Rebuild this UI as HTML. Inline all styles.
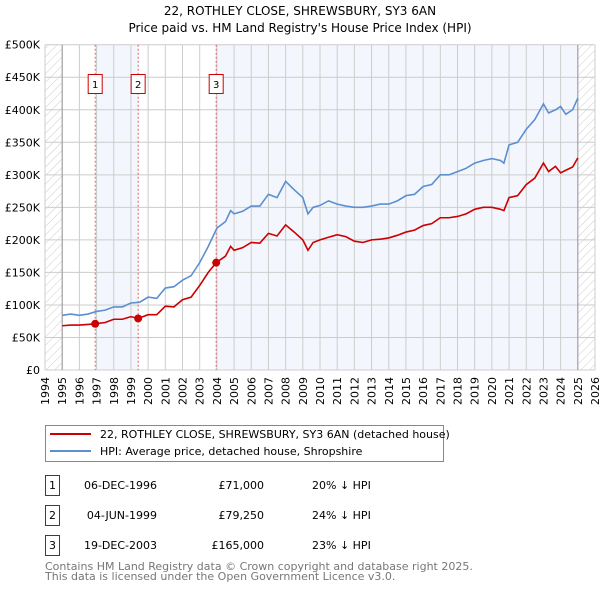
<!DOCTYPE html>
<html><head><meta charset="utf-8"><style>
body{margin:0;background:#fff;}
svg{display:block;font-family:"DejaVu Sans","Liberation Sans",sans-serif;}
</style></head><body>
<svg id="chart" width="600" height="590" viewBox="0 0 600 590" xmlns="http://www.w3.org/2000/svg">
<defs>
<pattern id="hatch" width="6" height="6" patternUnits="userSpaceOnUse" patternTransform="rotate(45)">
<line x1="0" y1="0" x2="0" y2="6" stroke="#ccc" stroke-width="1"/>
</pattern>
</defs>
<text x="300" y="15" text-anchor="middle" font-size="12" fill="#000">22, ROTHLEY CLOSE, SHREWSBURY, SY3 6AN</text>
<text x="300" y="32" text-anchor="middle" font-size="12" fill="#000">Price paid vs. HM Land Registry's House Price Index (HPI)</text>
<g id="plot"></g>
<g id="legend">
<rect x="45.5" y="425.5" width="398" height="36" fill="#fff" stroke="#888"/>
<line x1="50" y1="434" x2="91" y2="434" stroke="#cc0000" stroke-width="2"/>
<text x="100" y="438" font-size="11">22, ROTHLEY CLOSE, SHREWSBURY, SY3 6AN (detached house)</text>
<line x1="50" y1="451" x2="91" y2="451" stroke="#5b8fd0" stroke-width="2"/>
<text x="100" y="455" font-size="11">HPI: Average price, detached house, Shropshire</text>
</g>
<g id="table" font-size="11"></g>
<text x="45" y="570" font-size="11" fill="#777">Contains HM Land Registry data © Crown copyright and database right 2025.</text>
<text x="45" y="580" font-size="11" fill="#777">This data is licensed under the Open Government Licence v3.0.</text>
</svg>
<script>
const hpiYears=[1995,1995.5,1996,1996.5,1997,1997.5,1998,1998.5,1999,1999.5,2000,2000.5,2001,2001.5,2002,2002.5,2003,2003.5,2004,2004.5,2004.8,2005,2005.5,2006,2006.5,2007,2007.5,2008,2008.5,2009,2009.3,2009.6,2010,2010.5,2011,2011.5,2012,2012.5,2013,2013.5,2014,2014.5,2015,2015.5,2016,2016.5,2017,2017.5,2018,2018.5,2019,2019.5,2020,2020.5,2020.7,2021,2021.5,2022,2022.5,2023,2023.3,2023.7,2024,2024.3,2024.7,2025];
const hpiValues=[84,86,84,86,90,92,97,97,103,104,112,110,126,128,138,145,165,190,218,228,245,240,244,252,252,270,265,290,277,265,240,250,253,260,255,252,250,250,252,255,255,260,268,270,282,285,300,300,305,310,318,322,325,322,318,346,350,370,385,409,395,400,405,393,400,418];
const ppYears=[1995,1995.5,1996,1996.5,1996.92,1997.5,1998,1998.5,1999,1999.42,2000,2000.5,2001,2001.5,2002,2002.5,2003,2003.5,2003.96,2004.5,2004.8,2005,2005.5,2006,2006.5,2007,2007.5,2008,2008.5,2009,2009.3,2009.6,2010,2010.5,2011,2011.5,2012,2012.5,2013,2013.5,2014,2014.5,2015,2015.5,2016,2016.5,2017,2017.5,2018,2018.5,2019,2019.5,2020,2020.5,2020.7,2021,2021.5,2022,2022.5,2023,2023.3,2023.7,2024,2024.3,2024.7,2025];
const ppValues=[68,69,69,70,71,73,78,78,82,79.25,85,85,98,97,108,112,130,150,165,175,190,184,188,196,195,210,206,223,212,200,184,196,200,204,208,205,198,196,200,201,203,207,212,215,222,225,234,234,236,240,247,250,250,247,245,265,268,285,295,318,305,313,303,307,312,326];
const saleYears=[1996.92,1999.42,2003.96];
const saleLabels=["1","2","3"];
const saleDates=["06-DEC-1996","04-JUN-1999","19-DEC-2003"];
const salePrices=["£71,000","£79,250","£165,000"];
const salePriceValues=[71,79.25,165];
const saleDiffs=["20% ↓ HPI","24% ↓ HPI","23% ↓ HPI"];
const yTicks=[0,50,100,150,200,250,300,350,400,450,500];
const yTickLabels=["£0","£50K","£100K","£150K","£200K","£250K","£300K","£350K","£400K","£450K","£500K"];
const xTicks=[1994,1995,1996,1997,1998,1999,2000,2001,2002,2003,2004,2005,2006,2007,2008,2009,2010,2011,2012,2013,2014,2015,2016,2017,2018,2019,2020,2021,2022,2023,2024,2025,2026];

const L=45,R=595,T=44.7,B=370,X0=1994,X1=2026,YMAX=500;
const xs=v=>L+(v-X0)/(X1-X0)*(R-L);
const ys=v=>B-v/YMAX*(B-T);
const NS="http://www.w3.org/2000/svg";
const plot=document.getElementById('plot');
function mk(tag,attrs,parent){const e=document.createElementNS(NS,tag);for(const k in attrs)e.setAttribute(k,attrs[k]);(parent||plot).appendChild(e);return e;}

let e;
e=mk('rect',{x:L,y:T,width:R-L,height:B-T,fill:'#fff'});


e=mk('rect',{x:L,y:T,width:xs(1995)-L,height:B-T,fill:'url(#hatch)'});


e=mk('rect',{x:xs(2025),y:T,width:R-xs(2025),height:B-T,fill:'url(#hatch)'});


e=mk('rect',{x:xs(saleYears[0]),y:T,width:xs(saleYears[1])-xs(saleYears[0]),height:B-T,fill:'#eef3fc',opacity:0.7});


e=mk('rect',{x:xs(saleYears[2]),y:T,width:xs(2025)-xs(saleYears[2]),height:B-T,fill:'#eef3fc',opacity:0.7});



xTicks.forEach(t=>{
 e=mk('line',{x1:xs(t),x2:xs(t),y1:T,y2:B,stroke:'#ccc','stroke-width':1});
 
 
 e=mk('text',{x:0,y:0,transform:`translate(${xs(t)+4},377) rotate(-90)`,'text-anchor':'end','font-size':11});
 e.textContent=t;
 
 
});
yTicks.forEach((t,i)=>{
 e=mk('line',{x1:L,x2:R,y1:ys(t),y2:ys(t),stroke:'#ccc','stroke-width':1});
 
 
 e=mk('text',{x:40,y:ys(t)+4,'text-anchor':'end','font-size':11});
 e.textContent=yTickLabels[i];
 
 
});
e=mk('line',{x1:xs(1995),x2:xs(1995),y1:T,y2:B,stroke:'#999'});


e=mk('line',{x1:xs(2025),x2:xs(2025),y1:T,y2:B,stroke:'#999'});



saleYears.forEach((y,i)=>{
 e=mk('line',{x1:xs(y),x2:xs(y),y1:T,y2:B,stroke:'#e06060','stroke-dasharray':'2,2','stroke-width':1});
 
 
});

e=mk('polyline',{points:hpiYears.map((y,i)=>xs(y)+','+ys(hpiValues[i])).join(' '),fill:'none',stroke:'#5b8fd0','stroke-width':1.6});


e=mk('polyline',{points:ppYears.map((y,i)=>xs(y)+','+ys(ppValues[i])).join(' '),fill:'none',stroke:'#cc0000','stroke-width':1.6});



saleYears.forEach((y,i)=>{
 e=mk('circle',{cx:xs(y),cy:ys(salePriceValues[i]),r:4,fill:'#cc0000'});
 
 
 e=mk('rect',{x:xs(y)-7,y:74.5,width:14,height:19,fill:'#fff',stroke:'#cc0000'});
 
 
 e=mk('text',{x:xs(y),y:88,'text-anchor':'middle','font-size':10});
 e.textContent=saleLabels[i];
 
 
});

const tbl=document.getElementById('table');
saleYears.forEach((y,i)=>{
 const ty=475+i*30;
 e=mk('rect',{x:45.5,y:ty+0.5,width:14,height:20,fill:'#fff',stroke:'#cc0000'},tbl);
 
 
 e=mk('text',{x:52.5,y:ty+14,'text-anchor':'middle'},tbl);
 e.textContent=saleLabels[i];
 
 
 e=mk('text',{x:157,y:ty+14,'text-anchor':'end'},tbl);
 e.textContent=saleDates[i];
 
 
 e=mk('text',{x:264,y:ty+14,'text-anchor':'end'},tbl);
 e.textContent=salePrices[i];
 
 
 e=mk('text',{x:312,y:ty+14},tbl);
 e.textContent=saleDiffs[i];
 
 
});
</script>
</body></html>
